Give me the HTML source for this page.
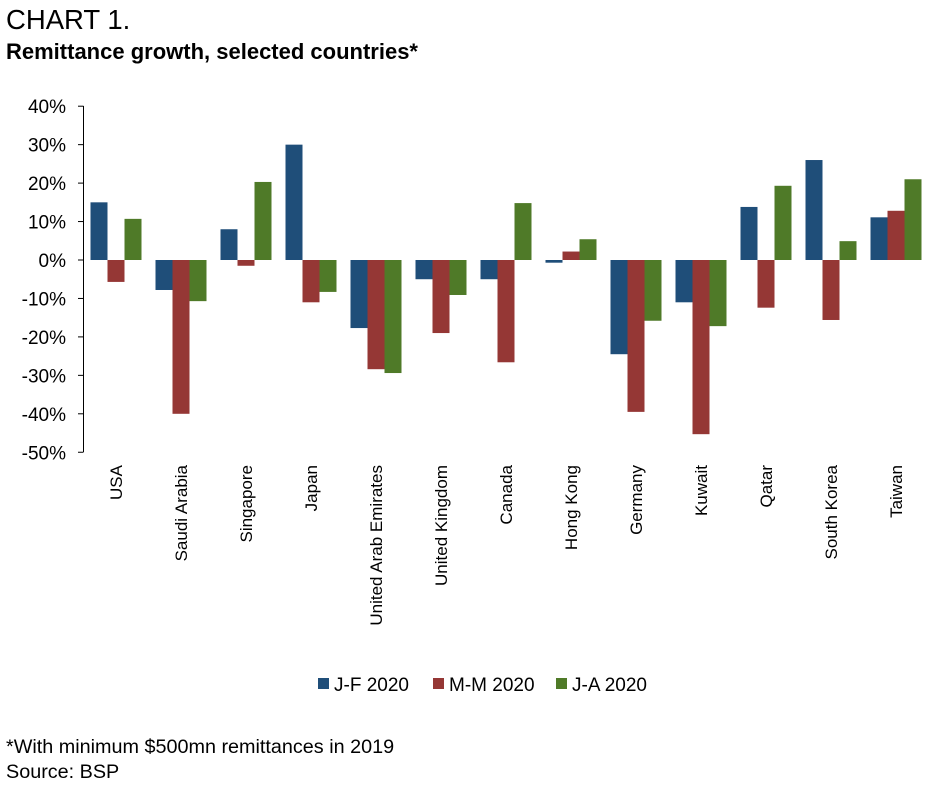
<!DOCTYPE html>
<html><head><meta charset="utf-8"><style>
body{margin:0;background:#fff;font-family:"Liberation Sans",Arial,sans-serif;}
</style></head><body>
<svg width="947" height="790" xmlns="http://www.w3.org/2000/svg" font-family="Liberation Sans, Arial, sans-serif">
<text x="6" y="29" font-size="27.5" fill="#000">CHART 1.</text>
<text x="6" y="59" font-size="22" font-weight="bold" fill="#000">Remittance growth, selected countries*</text>
<g id="plot"></g>
<g>
<rect x="318" y="678" width="11" height="11" fill="#1F4E79"/><text x="334" y="691" font-size="19">J-F 2020</text>
<rect x="433" y="678" width="11" height="11" fill="#953735"/><text x="449" y="691" font-size="19">M-M 2020</text>
<rect x="556" y="678" width="11" height="11" fill="#4F7A28"/><text x="572" y="691" font-size="19">J-A 2020</text>
</g>
<text x="6" y="753" font-size="19.8">*With minimum $500mn remittances in 2019</text>
<text x="6" y="778" font-size="19.8">Source: BSP</text>
</svg>
<script>
const categories=["USA","Saudi Arabia","Singapore","Japan","United Arab Emirates","United Kingdom","Canada","Hong Kong","Germany","Kuwait","Qatar","South Korea","Taiwan"];
const jf=[15,-7.8,8,30,-17.7,-5,-5,-0.7,-24.5,-11,13.8,26,11.1];
const mm=[-5.7,-40,-1.5,-11,-28.4,-19,-26.6,2.2,-39.5,-45.3,-12.4,-15.6,12.8];
const ja=[10.7,-10.7,20.3,-8.3,-29.4,-9.1,14.8,5.4,-15.8,-17.2,19.3,4.9,21];
const ticks=[40,30,20,10,0,-10,-20,-30,-40,-50];
const series=[{v:jf,c:"#1F4E79",n:"jf"},{v:mm,c:"#953735",n:"mm"},{v:ja,c:"#4F7A28",n:"ja"}];
const NS="http://www.w3.org/2000/svg";
const g=document.getElementById("plot");
const y=v=>260-v*3.845;
const x0=83.5,band=65;
function mk(t,a){const e=document.createElementNS(NS,t);for(const k in a)e.setAttribute(k,a[k]);g.appendChild(e);return e;}
ticks.forEach(t=>{
 const e=mk("text",{x:66,y:y(t)+7,"font-size":19,"text-anchor":"end"});e.textContent=t+"%";
 
 
 const l=mk("line",{x1:78,x2:83.5,y1:y(t),y2:y(t),stroke:"#000"});
 
 
});
categories.forEach((c,i)=>{
 const cx=x0+band*i+band/2;
 series.forEach((s,j)=>{
  const v=s.v[i];const bx=cx-25.5+j*17;
  const r=mk("rect",{x:bx,y:Math.min(y(v),y(0)),width:17,height:Math.abs(y(v)-y(0)),fill:s.c});
  
  
 });
 const t=mk("text",{transform:`translate(${cx+6},465) rotate(-90)`,"font-size":17,"text-anchor":"end"});
 t.textContent=c;
 
 
});
const ax=mk("line",{x1:83.5,x2:83.5,y1:106,y2:452,stroke:"#000"});


</script>
</body></html>
